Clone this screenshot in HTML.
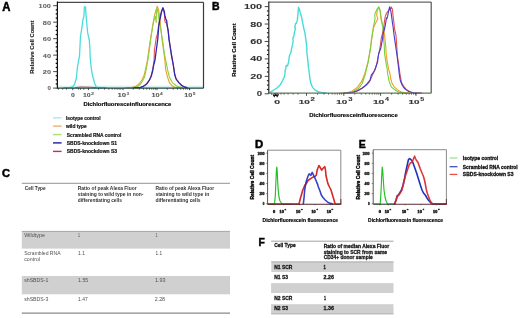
<!DOCTYPE html>
<html><head><meta charset="utf-8"><style>
html,body{margin:0;padding:0;background:#fff;}
svg{display:block;filter:blur(0.3px);}
text{font-family:"Liberation Sans", sans-serif;}
</style></head><body>
<svg width="520" height="318" viewBox="0 0 520 318">
<rect width="520" height="318" fill="#fff"/>
<rect x="58.00" y="85.30" width="145.00" height="2.00" fill="#eaf8f8"/>
<line x1="58.00" y1="86.90" x2="203.00" y2="86.90" stroke="#c8eeee" stroke-width="0.8"/>
<path d="M64.00,87.60 L70.00,87.50 L72.50,87.00 L74.50,84.50 L76.40,78.00 L77.30,68.00 L78.30,62.00 L79.50,56.00 L79.80,50.00 L80.30,40.00 L80.50,36.00 L81.20,32.00 L82.30,25.00 L82.80,20.00 L83.80,17.00 L84.20,12.00 L84.30,7.20 L85.00,6.60 L85.60,7.20 L85.80,12.00 L86.20,17.00 L86.50,20.00 L86.90,25.00 L87.60,32.00 L88.30,36.00 L89.30,40.00 L90.00,50.00 L90.10,56.00 L90.60,62.00 L91.25,68.00 L92.20,74.00 L93.20,78.00 L94.50,83.00 L96.00,86.50 L98.00,87.50 L106.00,87.60" fill="none" stroke="#4adcdc" stroke-width="1.3" stroke-linejoin="round" stroke-linecap="round" opacity="1"/>
<path d="M75.00,87.60 L78.00,87.20 L81.00,86.90 L85.00,87.00 L89.00,87.10 L93.00,87.40 L96.00,87.60" fill="none" stroke="#a04848" stroke-width="1.0" stroke-linejoin="round" stroke-linecap="round" opacity="0.75"/>
<path d="M125.00,87.70 L131.00,87.50 L135.00,86.60 L138.00,84.70 L139.60,83.10 L141.90,80.00 L144.30,74.60 L146.30,65.70 L147.50,60.00 L148.80,50.00 L150.30,40.00 L151.10,35.00 L152.10,30.00 L152.50,26.50 L153.50,20.90 L154.40,16.20 L155.80,10.50 L157.30,6.20 L158.70,10.50 L159.60,16.20 L160.60,25.60 L161.00,30.00 L162.00,39.40 L163.40,48.90 L164.20,55.00 L164.80,60.00 L165.70,69.40 L167.50,77.00 L169.40,82.60 L172.30,86.00 L175.00,87.20 L180.00,87.70" fill="none" stroke="#eca028" stroke-width="1.1" stroke-linejoin="round" stroke-linecap="round" opacity="1"/>
<path d="M128.00,87.70 L134.00,87.60 L137.50,86.50 L140.50,84.00 L142.50,81.00 L144.30,77.60 L145.50,73.00 L147.00,65.00 L148.20,58.00 L149.30,50.00 L150.70,40.00 L151.60,33.00 L152.60,27.00 L153.60,22.00 L154.90,16.20 L155.60,18.00 L156.20,22.50 L156.30,16.00 L156.80,8.60 L157.50,9.50 L158.20,13.30 L159.20,20.90 L160.50,28.00 L161.30,33.00 L162.50,39.40 L163.60,48.00 L164.30,53.60 L165.70,60.00 L167.50,69.40 L169.40,77.00 L172.30,82.60 L176.00,85.50 L178.90,86.90 L183.00,87.70" fill="none" stroke="#88d040" stroke-width="1.1" stroke-linejoin="round" stroke-linecap="round" opacity="1"/>
<path d="M136.00,87.70 L141.00,87.20 L144.50,85.60 L147.50,83.00 L149.80,79.50 L151.50,75.00 L152.90,68.00 L154.10,60.00 L154.40,50.00 L155.20,45.00 L156.20,38.00 L157.30,34.70 L158.20,28.00 L159.20,22.00 L160.30,16.50 L161.50,12.00 L162.60,9.00 L163.50,10.00 L164.50,15.00 L164.80,20.90 L165.30,22.30 L166.50,23.00 L167.40,27.00 L168.30,32.00 L169.20,40.00 L170.60,49.00 L172.40,60.00 L173.70,67.50 L174.70,74.00 L176.20,79.00 L179.00,82.80 L182.00,85.60 L185.00,87.20 L187.00,87.60" fill="none" stroke="#e05060" stroke-width="1.1" stroke-linejoin="round" stroke-linecap="round" opacity="1"/>
<path d="M134.00,87.70 L140.40,87.40 L143.50,86.30 L146.70,83.90 L149.00,80.70 L151.00,76.80 L152.60,71.30 L153.70,65.00 L155.00,60.00 L156.30,50.00 L157.00,45.00 L157.70,39.40 L158.50,30.00 L158.70,26.50 L159.60,20.90 L160.60,16.20 L161.50,11.40 L162.90,7.70 L164.30,11.40 L164.80,15.20 L165.80,19.00 L166.70,20.90 L167.20,25.60 L168.10,30.00 L169.00,39.40 L170.50,48.90 L171.40,55.00 L172.40,60.00 L173.70,67.50 L174.60,74.20 L176.00,78.90 L178.90,82.60 L181.70,85.50 L184.50,87.00 L187.00,87.60" fill="none" stroke="#3028a8" stroke-width="1.3" stroke-linejoin="round" stroke-linecap="round" opacity="1"/>
<text x="2.20" y="10.72" font-size="12" font-weight="bold" fill="#000" text-anchor="start" textLength="8.20" lengthAdjust="spacingAndGlyphs" stroke="#000" stroke-width="0.5">A</text>
<line x1="57.40" y1="2.30" x2="203.50" y2="2.30" stroke="#4a4a4a" stroke-width="1.2"/>
<line x1="203.50" y1="2.30" x2="203.50" y2="88.20" stroke="#3a3a3a" stroke-width="1.2"/>
<line x1="53.20" y1="88.10" x2="57.40" y2="88.10" stroke="#333" stroke-width="0.9"/>
<text x="51.00" y="90.46" font-size="4.9" font-weight="bold" fill="#606060" text-anchor="end" textLength="3.40" lengthAdjust="spacingAndGlyphs" stroke="#606060" stroke-width="0.05">0</text>
<line x1="55.70" y1="83.98" x2="57.40" y2="83.98" stroke="#000" stroke-width="1.2"/>
<line x1="55.70" y1="79.86" x2="57.40" y2="79.86" stroke="#000" stroke-width="1.2"/>
<line x1="55.70" y1="75.74" x2="57.40" y2="75.74" stroke="#000" stroke-width="1.2"/>
<line x1="53.20" y1="71.62" x2="57.40" y2="71.62" stroke="#333" stroke-width="0.9"/>
<text x="51.00" y="73.98" font-size="4.9" font-weight="bold" fill="#606060" text-anchor="end" textLength="8.20" lengthAdjust="spacingAndGlyphs" stroke="#606060" stroke-width="0.05">20</text>
<line x1="55.70" y1="67.50" x2="57.40" y2="67.50" stroke="#000" stroke-width="1.2"/>
<line x1="55.70" y1="63.38" x2="57.40" y2="63.38" stroke="#000" stroke-width="1.2"/>
<line x1="55.70" y1="59.26" x2="57.40" y2="59.26" stroke="#000" stroke-width="1.2"/>
<line x1="53.20" y1="55.14" x2="57.40" y2="55.14" stroke="#333" stroke-width="0.9"/>
<text x="51.00" y="57.50" font-size="4.9" font-weight="bold" fill="#606060" text-anchor="end" textLength="8.20" lengthAdjust="spacingAndGlyphs" stroke="#606060" stroke-width="0.05">40</text>
<line x1="55.70" y1="51.02" x2="57.40" y2="51.02" stroke="#000" stroke-width="1.2"/>
<line x1="55.70" y1="46.90" x2="57.40" y2="46.90" stroke="#000" stroke-width="1.2"/>
<line x1="55.70" y1="42.78" x2="57.40" y2="42.78" stroke="#000" stroke-width="1.2"/>
<line x1="53.20" y1="38.66" x2="57.40" y2="38.66" stroke="#333" stroke-width="0.9"/>
<text x="51.00" y="41.02" font-size="4.9" font-weight="bold" fill="#606060" text-anchor="end" textLength="8.20" lengthAdjust="spacingAndGlyphs" stroke="#606060" stroke-width="0.05">60</text>
<line x1="55.70" y1="34.54" x2="57.40" y2="34.54" stroke="#000" stroke-width="1.2"/>
<line x1="55.70" y1="30.42" x2="57.40" y2="30.42" stroke="#000" stroke-width="1.2"/>
<line x1="55.70" y1="26.30" x2="57.40" y2="26.30" stroke="#000" stroke-width="1.2"/>
<line x1="53.20" y1="22.18" x2="57.40" y2="22.18" stroke="#333" stroke-width="0.9"/>
<text x="51.00" y="24.54" font-size="4.9" font-weight="bold" fill="#606060" text-anchor="end" textLength="8.20" lengthAdjust="spacingAndGlyphs" stroke="#606060" stroke-width="0.05">80</text>
<line x1="55.70" y1="18.06" x2="57.40" y2="18.06" stroke="#000" stroke-width="1.2"/>
<line x1="55.70" y1="13.94" x2="57.40" y2="13.94" stroke="#000" stroke-width="1.2"/>
<line x1="55.70" y1="9.82" x2="57.40" y2="9.82" stroke="#000" stroke-width="1.2"/>
<line x1="53.20" y1="5.70" x2="57.40" y2="5.70" stroke="#333" stroke-width="0.9"/>
<text x="51.00" y="8.06" font-size="4.9" font-weight="bold" fill="#606060" text-anchor="end" textLength="12.40" lengthAdjust="spacingAndGlyphs" stroke="#606060" stroke-width="0.05">100</text>
<line x1="57.40" y1="1.50" x2="57.40" y2="88.70" stroke="#111" stroke-width="1.2"/>
<line x1="57.40" y1="88.20" x2="203.50" y2="88.20" stroke="#1f4640" stroke-width="1.3"/>
<line x1="72.80" y1="88.20" x2="72.80" y2="90.20" stroke="#222" stroke-width="0.8"/>
<line x1="88.40" y1="88.20" x2="88.40" y2="90.20" stroke="#222" stroke-width="0.8"/>
<line x1="123.00" y1="88.20" x2="123.00" y2="90.20" stroke="#222" stroke-width="0.8"/>
<line x1="157.00" y1="88.20" x2="157.00" y2="90.20" stroke="#222" stroke-width="0.8"/>
<line x1="189.70" y1="88.20" x2="189.70" y2="90.20" stroke="#222" stroke-width="0.8"/>
<line x1="98.64" y1="88.20" x2="98.64" y2="89.70" stroke="#222" stroke-width="0.7"/>
<line x1="104.62" y1="88.20" x2="104.62" y2="89.70" stroke="#222" stroke-width="0.7"/>
<line x1="108.87" y1="88.20" x2="108.87" y2="89.70" stroke="#222" stroke-width="0.7"/>
<line x1="112.16" y1="88.20" x2="112.16" y2="89.70" stroke="#222" stroke-width="0.7"/>
<line x1="114.86" y1="88.20" x2="114.86" y2="89.70" stroke="#222" stroke-width="0.7"/>
<line x1="117.13" y1="88.20" x2="117.13" y2="89.70" stroke="#222" stroke-width="0.7"/>
<line x1="119.11" y1="88.20" x2="119.11" y2="89.70" stroke="#222" stroke-width="0.7"/>
<line x1="120.84" y1="88.20" x2="120.84" y2="89.70" stroke="#222" stroke-width="0.7"/>
<line x1="133.24" y1="88.20" x2="133.24" y2="89.70" stroke="#222" stroke-width="0.7"/>
<line x1="139.22" y1="88.20" x2="139.22" y2="89.70" stroke="#222" stroke-width="0.7"/>
<line x1="143.47" y1="88.20" x2="143.47" y2="89.70" stroke="#222" stroke-width="0.7"/>
<line x1="146.76" y1="88.20" x2="146.76" y2="89.70" stroke="#222" stroke-width="0.7"/>
<line x1="149.46" y1="88.20" x2="149.46" y2="89.70" stroke="#222" stroke-width="0.7"/>
<line x1="151.73" y1="88.20" x2="151.73" y2="89.70" stroke="#222" stroke-width="0.7"/>
<line x1="153.71" y1="88.20" x2="153.71" y2="89.70" stroke="#222" stroke-width="0.7"/>
<line x1="155.44" y1="88.20" x2="155.44" y2="89.70" stroke="#222" stroke-width="0.7"/>
<line x1="167.24" y1="88.20" x2="167.24" y2="89.70" stroke="#222" stroke-width="0.7"/>
<line x1="173.22" y1="88.20" x2="173.22" y2="89.70" stroke="#222" stroke-width="0.7"/>
<line x1="177.47" y1="88.20" x2="177.47" y2="89.70" stroke="#222" stroke-width="0.7"/>
<line x1="180.76" y1="88.20" x2="180.76" y2="89.70" stroke="#222" stroke-width="0.7"/>
<line x1="183.46" y1="88.20" x2="183.46" y2="89.70" stroke="#222" stroke-width="0.7"/>
<line x1="185.73" y1="88.20" x2="185.73" y2="89.70" stroke="#222" stroke-width="0.7"/>
<line x1="187.71" y1="88.20" x2="187.71" y2="89.70" stroke="#222" stroke-width="0.7"/>
<line x1="189.44" y1="88.20" x2="189.44" y2="89.70" stroke="#222" stroke-width="0.7"/>
<line x1="58.40" y1="88.20" x2="58.40" y2="89.70" stroke="#222" stroke-width="0.7"/>
<line x1="62.70" y1="88.20" x2="62.70" y2="89.70" stroke="#222" stroke-width="0.7"/>
<line x1="66.50" y1="88.20" x2="66.50" y2="89.70" stroke="#222" stroke-width="0.7"/>
<line x1="78.60" y1="88.20" x2="78.60" y2="89.70" stroke="#222" stroke-width="0.7"/>
<line x1="80.50" y1="88.20" x2="80.50" y2="89.70" stroke="#222" stroke-width="0.7"/>
<line x1="83.80" y1="88.20" x2="83.80" y2="89.70" stroke="#222" stroke-width="0.7"/>
<text x="70.90" y="97.43" font-size="4.8" font-weight="bold" fill="#5a5a5a" text-anchor="start" textLength="3.80" lengthAdjust="spacingAndGlyphs" stroke="#5a5a5a" stroke-width="0.1">0</text>
<text x="82.90" y="97.03" font-size="4.8" font-weight="bold" fill="#5a5a5a" text-anchor="start" textLength="7.70" lengthAdjust="spacingAndGlyphs" stroke="#5a5a5a" stroke-width="0.1">10</text>
<text x="90.90" y="94.62" font-size="3.4" font-weight="bold" fill="#5a5a5a" text-anchor="start" textLength="3.00" lengthAdjust="spacingAndGlyphs" stroke="#5a5a5a" stroke-width="0.05">2</text>
<text x="117.50" y="97.03" font-size="4.8" font-weight="bold" fill="#5a5a5a" text-anchor="start" textLength="8.60" lengthAdjust="spacingAndGlyphs" stroke="#5a5a5a" stroke-width="0.1">10</text>
<text x="126.60" y="94.62" font-size="3.4" font-weight="bold" fill="#5a5a5a" text-anchor="start" textLength="2.60" lengthAdjust="spacingAndGlyphs" stroke="#5a5a5a" stroke-width="0.05">3</text>
<text x="151.50" y="97.03" font-size="4.8" font-weight="bold" fill="#5a5a5a" text-anchor="start" textLength="8.10" lengthAdjust="spacingAndGlyphs" stroke="#5a5a5a" stroke-width="0.1">10</text>
<text x="160.10" y="94.62" font-size="3.4" font-weight="bold" fill="#5a5a5a" text-anchor="start" textLength="2.70" lengthAdjust="spacingAndGlyphs" stroke="#5a5a5a" stroke-width="0.05">4</text>
<text x="184.20" y="97.03" font-size="4.8" font-weight="bold" fill="#5a5a5a" text-anchor="start" textLength="8.10" lengthAdjust="spacingAndGlyphs" stroke="#5a5a5a" stroke-width="0.1">10</text>
<text x="192.70" y="94.62" font-size="3.4" font-weight="bold" fill="#5a5a5a" text-anchor="start" textLength="2.70" lengthAdjust="spacingAndGlyphs" stroke="#5a5a5a" stroke-width="0.05">5</text>
<text x="83.40" y="106.15" font-size="5.7" font-weight="bold" fill="#000" text-anchor="start" textLength="88.00" lengthAdjust="spacingAndGlyphs" stroke="#000" stroke-width="0.15">Dichlorfluoresceinfluorescence</text>
<text transform="translate(34.16,47.15) rotate(-90)" x="0" y="0" font-size="6.0" font-weight="bold" fill="#1a1a1a" text-anchor="middle" textLength="53.10" lengthAdjust="spacingAndGlyphs" stroke="#1a1a1a" stroke-width="0.1">Relative Cell Count</text>
<line x1="53.00" y1="117.80" x2="61.60" y2="117.80" stroke="#a4eaf0" stroke-width="1.4"/>
<text x="66.00" y="119.71" font-size="5.3" font-weight="bold" fill="#181818" text-anchor="start" textLength="34.60" lengthAdjust="spacingAndGlyphs" stroke="#181818" stroke-width="0.22">Isotype control</text>
<line x1="53.00" y1="126.10" x2="61.60" y2="126.10" stroke="#f0b070" stroke-width="1.4"/>
<text x="66.00" y="128.01" font-size="5.3" font-weight="bold" fill="#181818" text-anchor="start" textLength="20.70" lengthAdjust="spacingAndGlyphs" stroke="#181818" stroke-width="0.22">wild type</text>
<line x1="53.00" y1="134.60" x2="61.60" y2="134.60" stroke="#a8e070" stroke-width="1.4"/>
<text x="66.80" y="136.51" font-size="5.3" font-weight="bold" fill="#181818" text-anchor="start" textLength="54.50" lengthAdjust="spacingAndGlyphs" stroke="#181818" stroke-width="0.22">Scrambled RNA control</text>
<line x1="53.00" y1="142.90" x2="61.60" y2="142.90" stroke="#1c1ca0" stroke-width="1.4"/>
<text x="66.80" y="144.81" font-size="5.3" font-weight="bold" fill="#181818" text-anchor="start" textLength="50.20" lengthAdjust="spacingAndGlyphs" stroke="#181818" stroke-width="0.22">SBDS-knockdown S1</text>
<line x1="53.00" y1="151.40" x2="61.60" y2="151.40" stroke="#d82848" stroke-width="1.4"/>
<text x="66.80" y="153.31" font-size="5.3" font-weight="bold" fill="#181818" text-anchor="start" textLength="50.20" lengthAdjust="spacingAndGlyphs" stroke="#181818" stroke-width="0.22">SBDS-knockdown S3</text>
<path d="M269.60,92.80 L271.30,91.60 L273.70,90.00 L277.00,88.00 L280.30,84.70 L282.70,80.60 L284.40,76.50 L285.00,73.30 L285.20,70.00 L285.80,68.40 L286.20,65.50 L287.60,65.80 L288.60,61.80 L289.40,56.10 L290.20,54.00 L291.10,52.00 L291.40,49.30 L292.60,44.40 L293.20,40.50 L292.80,38.00 L293.80,36.50 L294.30,32.90 L295.50,28.00 L294.80,27.20 L295.20,25.30 L295.60,23.40 L296.40,23.20 L297.30,20.40 L298.10,12.20 L298.50,7.30 L299.30,9.00 L300.10,12.20 L301.40,16.30 L302.20,20.40 L303.00,24.40 L303.70,28.00 L304.90,32.90 L305.70,38.60 L306.50,44.40 L306.90,49.30 L306.80,52.00 L307.30,56.00 L307.80,60.20 L308.60,68.40 L309.40,74.00 L309.80,78.00 L310.90,83.30 L312.40,87.10 L315.10,90.10 L318.10,91.70 L321.10,92.40 L326.00,92.90" fill="none" stroke="#46dcd8" stroke-width="1.4" stroke-linejoin="round" stroke-linecap="round" opacity="1"/>
<path d="M340.00,93.10 L345.00,93.00 L347.70,92.50 L352.30,90.90 L356.90,87.80 L361.50,81.70 L364.60,74.20 L366.50,67.50 L368.00,61.70 L369.40,54.00 L370.50,47.70 L371.40,40.20 L372.40,33.50 L373.80,27.00 L375.90,22.60 L377.80,18.70 L376.60,14.80 L377.40,10.00 L379.00,7.30 L380.20,10.90 L380.60,16.40 L381.70,22.60 L383.30,27.00 L384.60,35.40 L385.60,44.90 L386.30,55.00 L387.20,61.70 L388.70,69.40 L390.00,74.00 L390.80,79.00 L392.00,83.00 L393.80,86.30 L396.90,89.40 L400.80,91.70 L405.00,92.90 L410.00,93.10" fill="none" stroke="#f0a020" stroke-width="1.1" stroke-linejoin="round" stroke-linecap="round" opacity="1"/>
<path d="M343.00,93.10 L348.00,93.00 L353.80,91.20 L358.50,88.60 L362.30,83.20 L365.40,74.00 L366.80,67.50 L368.30,61.70 L369.60,54.00 L370.60,47.70 L371.50,40.20 L372.50,33.50 L373.30,27.00 L374.30,22.60 L375.10,18.70 L374.70,14.80 L375.50,12.40 L377.00,9.30 L378.60,6.90 L379.80,9.30 L381.00,16.40 L382.10,22.60 L382.80,27.00 L383.20,35.40 L384.20,44.90 L384.60,54.00 L385.80,61.70 L387.20,69.40 L387.70,74.00 L389.20,81.70 L391.50,87.10 L395.40,90.20 L399.20,92.20 L403.00,92.90 L408.00,93.10" fill="none" stroke="#78d040" stroke-width="1.1" stroke-linejoin="round" stroke-linecap="round" opacity="1"/>
<path d="M346.00,93.10 L350.00,93.00 L353.80,92.20 L358.50,90.20 L363.00,87.80 L368.50,83.20 L370.40,80.00 L372.00,76.00 L374.00,72.00 L375.50,68.00 L376.80,64.00 L377.80,58.00 L379.20,52.00 L380.40,45.00 L381.30,38.00 L382.30,34.50 L383.70,28.00 L384.50,21.00 L385.30,16.40 L386.50,13.20 L387.60,11.60 L390.00,9.30 L391.20,6.90 L392.40,9.30 L393.10,16.40 L393.90,22.60 L394.50,28.80 L396.00,35.40 L396.70,45.00 L397.40,56.00 L398.30,62.00 L399.30,69.40 L400.00,74.00 L401.50,82.50 L403.80,86.30 L406.20,89.40 L410.00,91.70 L413.80,92.80 L418.00,93.00 L422.00,93.10" fill="none" stroke="#e05050" stroke-width="1.1" stroke-linejoin="round" stroke-linecap="round" opacity="1"/>
<path d="M344.00,93.10 L348.00,93.00 L352.30,92.50 L356.90,90.90 L361.50,88.60 L366.20,84.80 L370.00,80.20 L371.30,75.20 L372.80,73.20 L374.70,70.30 L375.70,67.50 L376.60,64.60 L377.60,61.70 L378.60,54.00 L380.90,47.70 L382.30,40.20 L383.20,33.50 L385.00,27.00 L385.70,22.60 L386.50,17.90 L386.90,18.70 L387.60,16.40 L388.60,10.90 L389.60,6.90 L390.80,10.90 L391.60,16.40 L392.40,22.60 L393.10,27.00 L394.10,35.40 L395.50,44.90 L396.80,54.00 L397.80,61.70 L398.80,69.40 L399.20,74.00 L400.20,80.00 L400.80,81.70 L402.30,85.50 L404.60,88.60 L407.70,90.90 L411.50,92.50 L416.00,93.00 L420.00,93.10" fill="none" stroke="#4a38c8" stroke-width="1.1" stroke-linejoin="round" stroke-linecap="round" opacity="1"/>
<text x="212.00" y="10.34" font-size="11.5" font-weight="bold" fill="#000" text-anchor="start" textLength="7.60" lengthAdjust="spacingAndGlyphs" stroke="#000" stroke-width="0.5">B</text>
<line x1="268.80" y1="2.10" x2="431.20" y2="2.10" stroke="#666" stroke-width="1.2"/>
<line x1="431.20" y1="2.10" x2="431.20" y2="93.20" stroke="#555" stroke-width="1.2"/>
<line x1="264.70" y1="93.80" x2="268.80" y2="93.80" stroke="#333" stroke-width="0.9"/>
<text x="262.20" y="96.27" font-size="6.3" font-weight="bold" fill="#333" text-anchor="end" textLength="5.40" lengthAdjust="spacingAndGlyphs" stroke="#333" stroke-width="0.05">0</text>
<line x1="266.90" y1="89.44" x2="268.80" y2="89.44" stroke="#111" stroke-width="1.1"/>
<line x1="266.90" y1="85.08" x2="268.80" y2="85.08" stroke="#111" stroke-width="1.1"/>
<line x1="266.90" y1="80.72" x2="268.80" y2="80.72" stroke="#111" stroke-width="1.1"/>
<line x1="264.70" y1="76.36" x2="268.80" y2="76.36" stroke="#333" stroke-width="0.9"/>
<text x="262.20" y="78.83" font-size="6.3" font-weight="bold" fill="#333" text-anchor="end" textLength="12.00" lengthAdjust="spacingAndGlyphs" stroke="#333" stroke-width="0.05">20</text>
<line x1="266.90" y1="72.00" x2="268.80" y2="72.00" stroke="#111" stroke-width="1.1"/>
<line x1="266.90" y1="67.64" x2="268.80" y2="67.64" stroke="#111" stroke-width="1.1"/>
<line x1="266.90" y1="63.28" x2="268.80" y2="63.28" stroke="#111" stroke-width="1.1"/>
<line x1="264.70" y1="58.92" x2="268.80" y2="58.92" stroke="#333" stroke-width="0.9"/>
<text x="262.20" y="61.39" font-size="6.3" font-weight="bold" fill="#333" text-anchor="end" textLength="12.00" lengthAdjust="spacingAndGlyphs" stroke="#333" stroke-width="0.05">40</text>
<line x1="266.90" y1="54.56" x2="268.80" y2="54.56" stroke="#111" stroke-width="1.1"/>
<line x1="266.90" y1="50.20" x2="268.80" y2="50.20" stroke="#111" stroke-width="1.1"/>
<line x1="266.90" y1="45.84" x2="268.80" y2="45.84" stroke="#111" stroke-width="1.1"/>
<line x1="264.70" y1="41.48" x2="268.80" y2="41.48" stroke="#333" stroke-width="0.9"/>
<text x="262.20" y="43.95" font-size="6.3" font-weight="bold" fill="#333" text-anchor="end" textLength="12.00" lengthAdjust="spacingAndGlyphs" stroke="#333" stroke-width="0.05">60</text>
<line x1="266.90" y1="37.12" x2="268.80" y2="37.12" stroke="#111" stroke-width="1.1"/>
<line x1="266.90" y1="32.76" x2="268.80" y2="32.76" stroke="#111" stroke-width="1.1"/>
<line x1="266.90" y1="28.40" x2="268.80" y2="28.40" stroke="#111" stroke-width="1.1"/>
<line x1="264.70" y1="24.04" x2="268.80" y2="24.04" stroke="#333" stroke-width="0.9"/>
<text x="262.20" y="26.51" font-size="6.3" font-weight="bold" fill="#333" text-anchor="end" textLength="12.00" lengthAdjust="spacingAndGlyphs" stroke="#333" stroke-width="0.05">80</text>
<line x1="266.90" y1="19.68" x2="268.80" y2="19.68" stroke="#111" stroke-width="1.1"/>
<line x1="266.90" y1="15.32" x2="268.80" y2="15.32" stroke="#111" stroke-width="1.1"/>
<line x1="266.90" y1="10.96" x2="268.80" y2="10.96" stroke="#111" stroke-width="1.1"/>
<line x1="264.70" y1="6.60" x2="268.80" y2="6.60" stroke="#333" stroke-width="0.9"/>
<text x="262.20" y="9.07" font-size="6.3" font-weight="bold" fill="#333" text-anchor="end" textLength="18.20" lengthAdjust="spacingAndGlyphs" stroke="#333" stroke-width="0.05">100</text>
<line x1="268.80" y1="1.50" x2="268.80" y2="93.70" stroke="#2a2a2a" stroke-width="1.2"/>
<line x1="268.80" y1="93.20" x2="431.20" y2="93.20" stroke="#5e7a58" stroke-width="1.3"/>
<line x1="277.20" y1="93.20" x2="277.20" y2="95.80" stroke="#222" stroke-width="0.8"/>
<line x1="306.50" y1="93.20" x2="306.50" y2="95.80" stroke="#222" stroke-width="0.8"/>
<line x1="343.80" y1="93.20" x2="343.80" y2="95.80" stroke="#222" stroke-width="0.8"/>
<line x1="380.60" y1="93.20" x2="380.60" y2="95.80" stroke="#222" stroke-width="0.8"/>
<line x1="416.00" y1="93.20" x2="416.00" y2="95.80" stroke="#222" stroke-width="0.8"/>
<line x1="317.52" y1="93.20" x2="317.52" y2="94.70" stroke="#333" stroke-width="0.7"/>
<line x1="323.96" y1="93.20" x2="323.96" y2="94.70" stroke="#333" stroke-width="0.7"/>
<line x1="328.54" y1="93.20" x2="328.54" y2="94.70" stroke="#333" stroke-width="0.7"/>
<line x1="332.08" y1="93.20" x2="332.08" y2="94.70" stroke="#333" stroke-width="0.7"/>
<line x1="334.98" y1="93.20" x2="334.98" y2="94.70" stroke="#333" stroke-width="0.7"/>
<line x1="337.43" y1="93.20" x2="337.43" y2="94.70" stroke="#333" stroke-width="0.7"/>
<line x1="339.55" y1="93.20" x2="339.55" y2="94.70" stroke="#333" stroke-width="0.7"/>
<line x1="341.43" y1="93.20" x2="341.43" y2="94.70" stroke="#333" stroke-width="0.7"/>
<line x1="354.82" y1="93.20" x2="354.82" y2="94.70" stroke="#333" stroke-width="0.7"/>
<line x1="361.26" y1="93.20" x2="361.26" y2="94.70" stroke="#333" stroke-width="0.7"/>
<line x1="365.84" y1="93.20" x2="365.84" y2="94.70" stroke="#333" stroke-width="0.7"/>
<line x1="369.38" y1="93.20" x2="369.38" y2="94.70" stroke="#333" stroke-width="0.7"/>
<line x1="372.28" y1="93.20" x2="372.28" y2="94.70" stroke="#333" stroke-width="0.7"/>
<line x1="374.73" y1="93.20" x2="374.73" y2="94.70" stroke="#333" stroke-width="0.7"/>
<line x1="376.85" y1="93.20" x2="376.85" y2="94.70" stroke="#333" stroke-width="0.7"/>
<line x1="378.73" y1="93.20" x2="378.73" y2="94.70" stroke="#333" stroke-width="0.7"/>
<line x1="391.62" y1="93.20" x2="391.62" y2="94.70" stroke="#333" stroke-width="0.7"/>
<line x1="398.06" y1="93.20" x2="398.06" y2="94.70" stroke="#333" stroke-width="0.7"/>
<line x1="402.64" y1="93.20" x2="402.64" y2="94.70" stroke="#333" stroke-width="0.7"/>
<line x1="406.18" y1="93.20" x2="406.18" y2="94.70" stroke="#333" stroke-width="0.7"/>
<line x1="409.08" y1="93.20" x2="409.08" y2="94.70" stroke="#333" stroke-width="0.7"/>
<line x1="411.53" y1="93.20" x2="411.53" y2="94.70" stroke="#333" stroke-width="0.7"/>
<line x1="413.65" y1="93.20" x2="413.65" y2="94.70" stroke="#333" stroke-width="0.7"/>
<line x1="415.53" y1="93.20" x2="415.53" y2="94.70" stroke="#333" stroke-width="0.7"/>
<line x1="271.50" y1="93.20" x2="271.50" y2="94.70" stroke="#333" stroke-width="0.7"/>
<line x1="274.50" y1="93.20" x2="274.50" y2="94.70" stroke="#333" stroke-width="0.7"/>
<line x1="281.00" y1="93.20" x2="281.00" y2="94.70" stroke="#333" stroke-width="0.7"/>
<line x1="284.00" y1="93.20" x2="284.00" y2="94.70" stroke="#333" stroke-width="0.7"/>
<line x1="288.00" y1="93.20" x2="288.00" y2="94.70" stroke="#333" stroke-width="0.7"/>
<line x1="293.00" y1="93.20" x2="293.00" y2="94.70" stroke="#333" stroke-width="0.7"/>
<line x1="298.00" y1="93.20" x2="298.00" y2="94.70" stroke="#333" stroke-width="0.7"/>
<path d="M272.9,94.2 L274.3,96.4 L275.7,94.2 L277.2,96.4 L278.6,94.2" fill="none" stroke="#151515" stroke-width="1.1"/>
<text x="274.30" y="103.86" font-size="6.0" font-weight="bold" fill="#3a3a3a" text-anchor="start" textLength="5.80" lengthAdjust="spacingAndGlyphs" stroke="#3a3a3a" stroke-width="0.15">0</text>
<text x="298.80" y="104.46" font-size="6.0" font-weight="bold" fill="#3a3a3a" text-anchor="start" textLength="11.10" lengthAdjust="spacingAndGlyphs" stroke="#3a3a3a" stroke-width="0.15">10</text>
<text x="310.40" y="101.46" font-size="4.9" font-weight="bold" fill="#3a3a3a" text-anchor="start" textLength="4.30" lengthAdjust="spacingAndGlyphs" stroke="#3a3a3a" stroke-width="0.1">2</text>
<text x="336.30" y="104.46" font-size="6.0" font-weight="bold" fill="#3a3a3a" text-anchor="start" textLength="11.00" lengthAdjust="spacingAndGlyphs" stroke="#3a3a3a" stroke-width="0.15">10</text>
<text x="348.30" y="101.46" font-size="4.9" font-weight="bold" fill="#3a3a3a" text-anchor="start" textLength="4.30" lengthAdjust="spacingAndGlyphs" stroke="#3a3a3a" stroke-width="0.1">3</text>
<text x="372.90" y="104.46" font-size="6.0" font-weight="bold" fill="#3a3a3a" text-anchor="start" textLength="11.50" lengthAdjust="spacingAndGlyphs" stroke="#3a3a3a" stroke-width="0.15">10</text>
<text x="385.00" y="101.46" font-size="4.9" font-weight="bold" fill="#3a3a3a" text-anchor="start" textLength="4.00" lengthAdjust="spacingAndGlyphs" stroke="#3a3a3a" stroke-width="0.1">4</text>
<text x="408.60" y="104.46" font-size="6.0" font-weight="bold" fill="#3a3a3a" text-anchor="start" textLength="11.00" lengthAdjust="spacingAndGlyphs" stroke="#3a3a3a" stroke-width="0.15">10</text>
<text x="420.20" y="101.46" font-size="4.9" font-weight="bold" fill="#3a3a3a" text-anchor="start" textLength="4.00" lengthAdjust="spacingAndGlyphs" stroke="#3a3a3a" stroke-width="0.1">5</text>
<text x="309.30" y="116.85" font-size="5.7" font-weight="bold" fill="#000" text-anchor="start" textLength="88.40" lengthAdjust="spacingAndGlyphs" stroke="#000" stroke-width="0.15">Dichlorfluoresceinfluorescence</text>
<text transform="translate(236.16,50.10) rotate(-90)" x="0" y="0" font-size="4.9" font-weight="bold" fill="#000" text-anchor="middle" textLength="53.40" lengthAdjust="spacingAndGlyphs" stroke="#000" stroke-width="0.12">Relative Cell Count</text>
<text x="2.00" y="177.43" font-size="11.2" font-weight="bold" fill="#000" text-anchor="start" textLength="8.00" lengthAdjust="spacingAndGlyphs" stroke="#000" stroke-width="0.5">C</text>
<line x1="21.80" y1="183.30" x2="230.00" y2="183.30" stroke="#888" stroke-width="0.9"/>
<text x="24.70" y="190.07" font-size="5.2" font-weight="bold" fill="#333" text-anchor="start" textLength="21.00" lengthAdjust="spacingAndGlyphs">Cell Type</text>
<text x="77.80" y="189.87" font-size="5.2" font-weight="bold" fill="#333" text-anchor="start" textLength="58.80" lengthAdjust="spacingAndGlyphs">Ratio of peak Alexa Fluor</text>
<text x="77.80" y="196.27" font-size="5.2" font-weight="bold" fill="#333" text-anchor="start" textLength="65.70" lengthAdjust="spacingAndGlyphs">staining to wild type in non-</text>
<text x="77.80" y="201.97" font-size="5.2" font-weight="bold" fill="#333" text-anchor="start" textLength="44.10" lengthAdjust="spacingAndGlyphs">differentiating cells</text>
<text x="155.40" y="189.87" font-size="5.2" font-weight="bold" fill="#333" text-anchor="start" textLength="58.80" lengthAdjust="spacingAndGlyphs">Ratio of peak Alexa Fluor</text>
<text x="155.40" y="196.27" font-size="5.2" font-weight="bold" fill="#333" text-anchor="start" textLength="53.80" lengthAdjust="spacingAndGlyphs">staining to wild type in</text>
<text x="155.40" y="201.97" font-size="5.2" font-weight="bold" fill="#333" text-anchor="start" textLength="45.20" lengthAdjust="spacingAndGlyphs">differentiating cells</text>
<rect x="21.80" y="231.10" width="208.20" height="17.50" fill="#d0d0d0"/>
<line x1="21.80" y1="231.40" x2="230.00" y2="231.40" stroke="#999" stroke-width="0.8"/>
<rect x="21.80" y="276.00" width="208.20" height="18.30" fill="#d0d0d0"/>
<line x1="21.80" y1="313.10" x2="230.00" y2="313.10" stroke="#8a8a8a" stroke-width="1.3"/>
<text x="24.20" y="237.02" font-size="5.6" font-weight="normal" fill="#505050" text-anchor="start" textLength="20.80" lengthAdjust="spacingAndGlyphs">Wildtype</text>
<text x="78.10" y="236.72" font-size="5.6" font-weight="normal" fill="#505050" text-anchor="start" textLength="2.00" lengthAdjust="spacingAndGlyphs">1</text>
<text x="155.50" y="236.72" font-size="5.6" font-weight="normal" fill="#505050" text-anchor="start" textLength="2.00" lengthAdjust="spacingAndGlyphs">1</text>
<text x="24.20" y="255.22" font-size="5.6" font-weight="normal" fill="#505050" text-anchor="start" textLength="36.40" lengthAdjust="spacingAndGlyphs">Scrambled RNA</text>
<text x="24.20" y="261.42" font-size="5.6" font-weight="normal" fill="#505050" text-anchor="start" textLength="15.90" lengthAdjust="spacingAndGlyphs">control</text>
<text x="78.10" y="255.02" font-size="5.6" font-weight="normal" fill="#505050" text-anchor="start" textLength="6.90" lengthAdjust="spacingAndGlyphs">1.1</text>
<text x="155.50" y="255.02" font-size="5.6" font-weight="normal" fill="#505050" text-anchor="start" textLength="6.60" lengthAdjust="spacingAndGlyphs">1.1</text>
<text x="24.20" y="282.22" font-size="5.6" font-weight="normal" fill="#505050" text-anchor="start" textLength="24.20" lengthAdjust="spacingAndGlyphs">shSBDS-1</text>
<text x="78.10" y="281.92" font-size="5.6" font-weight="normal" fill="#505050" text-anchor="start" textLength="10.00" lengthAdjust="spacingAndGlyphs">1.55</text>
<text x="155.00" y="281.92" font-size="5.6" font-weight="normal" fill="#505050" text-anchor="start" textLength="10.60" lengthAdjust="spacingAndGlyphs">1.93</text>
<text x="24.20" y="300.62" font-size="5.6" font-weight="normal" fill="#505050" text-anchor="start" textLength="24.20" lengthAdjust="spacingAndGlyphs">shSBDS-3</text>
<text x="78.10" y="300.52" font-size="5.6" font-weight="normal" fill="#505050" text-anchor="start" textLength="9.50" lengthAdjust="spacingAndGlyphs">1.47</text>
<text x="154.70" y="300.52" font-size="5.6" font-weight="normal" fill="#505050" text-anchor="start" textLength="10.40" lengthAdjust="spacingAndGlyphs">2.28</text>
<text x="255.00" y="147.64" font-size="11.5" font-weight="bold" fill="#000" text-anchor="start" textLength="8.20" lengthAdjust="spacingAndGlyphs" stroke="#000" stroke-width="0.5">D</text>
<line x1="267.60" y1="150.20" x2="340.80" y2="150.20" stroke="#8a8a8a" stroke-width="1.0"/>
<line x1="340.80" y1="150.20" x2="340.80" y2="204.00" stroke="#8a8a8a" stroke-width="1.0"/>
<line x1="267.60" y1="150.20" x2="267.60" y2="204.00" stroke="#555" stroke-width="1.0"/>
<line x1="266.10" y1="153.20" x2="267.60" y2="153.20" stroke="#444" stroke-width="0.6"/>
<text transform="translate(257.40,153.50) scale(0.2500)" x="0" y="4.03" font-size="11.2" font-weight="bold" fill="#222" textLength="28.00" lengthAdjust="spacingAndGlyphs" stroke="#222" stroke-width="1.2">1000</text>
<line x1="266.10" y1="163.30" x2="267.60" y2="163.30" stroke="#444" stroke-width="0.6"/>
<text transform="translate(259.40,163.60) scale(0.2500)" x="0" y="4.03" font-size="11.2" font-weight="bold" fill="#222" textLength="20.00" lengthAdjust="spacingAndGlyphs" stroke="#222" stroke-width="1.2">800</text>
<line x1="266.10" y1="173.40" x2="267.60" y2="173.40" stroke="#444" stroke-width="0.6"/>
<text transform="translate(259.40,173.70) scale(0.2500)" x="0" y="4.03" font-size="11.2" font-weight="bold" fill="#222" textLength="20.00" lengthAdjust="spacingAndGlyphs" stroke="#222" stroke-width="1.2">600</text>
<line x1="266.10" y1="183.50" x2="267.60" y2="183.50" stroke="#444" stroke-width="0.6"/>
<text transform="translate(259.40,183.80) scale(0.2500)" x="0" y="4.03" font-size="11.2" font-weight="bold" fill="#222" textLength="20.00" lengthAdjust="spacingAndGlyphs" stroke="#222" stroke-width="1.2">400</text>
<line x1="266.10" y1="193.60" x2="267.60" y2="193.60" stroke="#444" stroke-width="0.6"/>
<text transform="translate(259.40,193.90) scale(0.2500)" x="0" y="4.03" font-size="11.2" font-weight="bold" fill="#222" textLength="20.00" lengthAdjust="spacingAndGlyphs" stroke="#222" stroke-width="1.2">200</text>
<line x1="266.10" y1="203.70" x2="267.60" y2="203.70" stroke="#444" stroke-width="0.6"/>
<text transform="translate(262.80,204.00) scale(0.2500)" x="0" y="4.03" font-size="11.2" font-weight="bold" fill="#222" textLength="6.40" lengthAdjust="spacingAndGlyphs" stroke="#222" stroke-width="1.2">0</text>
<line x1="274.10" y1="204.00" x2="274.10" y2="205.30" stroke="#444" stroke-width="0.6"/>
<text transform="translate(273.10,211.70) scale(0.2500)" x="0" y="4.03" font-size="11.2" font-weight="bold" fill="#222" textLength="8.80" lengthAdjust="spacingAndGlyphs" stroke="#222" stroke-width="1.4">0</text>
<line x1="283.40" y1="204.00" x2="283.40" y2="205.30" stroke="#444" stroke-width="0.6"/>
<text transform="translate(279.60,211.70) scale(0.2500)" x="0" y="4.03" font-size="11.2" font-weight="bold" fill="#222" textLength="16.80" lengthAdjust="spacingAndGlyphs" stroke="#222" stroke-width="1.4">10</text>
<text transform="translate(284.40,209.40) scale(0.2500)" x="0" y="3.46" font-size="9.6" font-weight="bold" fill="#222" textLength="6.80" lengthAdjust="spacingAndGlyphs" stroke="#222" stroke-width="1.2">2</text>
<line x1="299.75" y1="204.00" x2="299.75" y2="205.30" stroke="#444" stroke-width="0.6"/>
<text transform="translate(296.10,211.70) scale(0.2500)" x="0" y="4.03" font-size="11.2" font-weight="bold" fill="#222" textLength="16.80" lengthAdjust="spacingAndGlyphs" stroke="#222" stroke-width="1.4">10</text>
<text transform="translate(300.90,209.40) scale(0.2500)" x="0" y="3.46" font-size="9.6" font-weight="bold" fill="#222" textLength="6.80" lengthAdjust="spacingAndGlyphs" stroke="#222" stroke-width="1.2">3</text>
<line x1="315.15" y1="204.00" x2="315.15" y2="205.30" stroke="#444" stroke-width="0.6"/>
<text transform="translate(311.50,211.70) scale(0.2500)" x="0" y="4.03" font-size="11.2" font-weight="bold" fill="#222" textLength="16.80" lengthAdjust="spacingAndGlyphs" stroke="#222" stroke-width="1.4">10</text>
<text transform="translate(316.30,209.40) scale(0.2500)" x="0" y="3.46" font-size="9.6" font-weight="bold" fill="#222" textLength="6.80" lengthAdjust="spacingAndGlyphs" stroke="#222" stroke-width="1.2">4</text>
<line x1="330.50" y1="204.00" x2="330.50" y2="205.30" stroke="#444" stroke-width="0.6"/>
<text transform="translate(326.80,211.70) scale(0.2500)" x="0" y="4.03" font-size="11.2" font-weight="bold" fill="#222" textLength="16.80" lengthAdjust="spacingAndGlyphs" stroke="#222" stroke-width="1.4">10</text>
<text transform="translate(331.60,209.40) scale(0.2500)" x="0" y="3.46" font-size="9.6" font-weight="bold" fill="#222" textLength="6.80" lengthAdjust="spacingAndGlyphs" stroke="#222" stroke-width="1.2">5</text>
<text x="262.60" y="222.19" font-size="5.8" font-weight="bold" fill="#000" text-anchor="start" textLength="75.30" lengthAdjust="spacingAndGlyphs" stroke="#000" stroke-width="0.2">Dichlorfluorescein fluorescence</text>
<text transform="translate(253.87,177.20) rotate(-90)" x="0" y="0" font-size="5.2" font-weight="bold" fill="#000" text-anchor="middle" textLength="44.60" lengthAdjust="spacingAndGlyphs" stroke="#000" stroke-width="0.35">Relative Cell Count</text>
<path d="M268.00,204.00 L274.50,204.00 L275.30,196.00 L275.90,182.00 L276.40,170.00 L276.80,167.00 L277.20,171.00 L277.60,180.00 L278.20,190.00 L279.00,197.00 L280.00,201.00 L281.50,203.30 L283.00,204.00 L292.00,204.00" fill="none" stroke="#22c022" stroke-width="1.15" stroke-linejoin="round" stroke-linecap="round" opacity="1"/>
<path d="M268.00,204.00 L299.00,204.00 L300.50,198.00 L302.80,190.00 L304.50,186.00 L305.70,184.00 L306.30,183.60 L308.00,180.50 L310.20,178.90 L313.40,176.90 L315.00,176.50 L316.30,175.20 L317.20,170.00 L318.90,165.50 L320.20,167.50 L321.60,170.20 L323.20,168.00 L324.80,166.70 L325.50,170.00 L326.00,175.70 L327.90,183.60 L329.50,187.00 L331.00,190.00 L332.50,195.00 L334.00,200.00 L335.00,203.50 L336.00,204.00 L340.80,204.00" fill="none" stroke="#d82828" stroke-width="1.6" stroke-linejoin="round" stroke-linecap="round" opacity="1"/>
<path d="M303.30,204.00 L304.00,198.00 L304.70,190.00 L305.90,182.80 L307.00,179.00 L308.30,175.50 L309.40,173.80 L311.00,175.30 L312.20,172.40 L313.50,175.00 L314.90,178.00 L316.00,180.50 L317.30,183.60 L318.40,187.00 L320.00,191.00 L321.30,195.00 L323.00,197.50 L325.20,200.00 L328.10,202.50 L330.50,203.40 L333.00,204.00" fill="none" stroke="#2030c0" stroke-width="1.6" stroke-linejoin="round" stroke-linecap="round" opacity="0.9"/>
<line x1="267.60" y1="204.20" x2="340.80" y2="204.20" stroke="#4e2424" stroke-width="1.1"/>
<line x1="340.80" y1="199.00" x2="340.80" y2="204.20" stroke="#6a3a3a" stroke-width="1.0"/>
<text x="358.80" y="147.54" font-size="11.5" font-weight="bold" fill="#000" text-anchor="start" textLength="7.00" lengthAdjust="spacingAndGlyphs" stroke="#000" stroke-width="0.5">E</text>
<line x1="373.20" y1="149.70" x2="446.40" y2="149.70" stroke="#8a8a8a" stroke-width="1.0"/>
<line x1="446.40" y1="149.70" x2="446.40" y2="204.10" stroke="#8a8a8a" stroke-width="1.0"/>
<line x1="373.20" y1="149.70" x2="373.20" y2="204.10" stroke="#555" stroke-width="1.0"/>
<line x1="371.70" y1="153.20" x2="373.20" y2="153.20" stroke="#444" stroke-width="0.6"/>
<text transform="translate(362.50,153.50) scale(0.2500)" x="0" y="4.03" font-size="11.2" font-weight="bold" fill="#222" textLength="28.00" lengthAdjust="spacingAndGlyphs" stroke="#222" stroke-width="1.2">1000</text>
<line x1="371.70" y1="163.30" x2="373.20" y2="163.30" stroke="#444" stroke-width="0.6"/>
<text transform="translate(364.50,163.60) scale(0.2500)" x="0" y="4.03" font-size="11.2" font-weight="bold" fill="#222" textLength="20.00" lengthAdjust="spacingAndGlyphs" stroke="#222" stroke-width="1.2">800</text>
<line x1="371.70" y1="173.40" x2="373.20" y2="173.40" stroke="#444" stroke-width="0.6"/>
<text transform="translate(364.50,173.70) scale(0.2500)" x="0" y="4.03" font-size="11.2" font-weight="bold" fill="#222" textLength="20.00" lengthAdjust="spacingAndGlyphs" stroke="#222" stroke-width="1.2">600</text>
<line x1="371.70" y1="183.50" x2="373.20" y2="183.50" stroke="#444" stroke-width="0.6"/>
<text transform="translate(364.50,183.80) scale(0.2500)" x="0" y="4.03" font-size="11.2" font-weight="bold" fill="#222" textLength="20.00" lengthAdjust="spacingAndGlyphs" stroke="#222" stroke-width="1.2">400</text>
<line x1="371.70" y1="193.60" x2="373.20" y2="193.60" stroke="#444" stroke-width="0.6"/>
<text transform="translate(364.50,193.90) scale(0.2500)" x="0" y="4.03" font-size="11.2" font-weight="bold" fill="#222" textLength="20.00" lengthAdjust="spacingAndGlyphs" stroke="#222" stroke-width="1.2">200</text>
<line x1="371.70" y1="203.70" x2="373.20" y2="203.70" stroke="#444" stroke-width="0.6"/>
<text transform="translate(367.90,204.00) scale(0.2500)" x="0" y="4.03" font-size="11.2" font-weight="bold" fill="#222" textLength="6.40" lengthAdjust="spacingAndGlyphs" stroke="#222" stroke-width="1.2">0</text>
<line x1="379.70" y1="204.10" x2="379.70" y2="205.40" stroke="#444" stroke-width="0.6"/>
<text transform="translate(378.80,211.70) scale(0.2500)" x="0" y="4.03" font-size="11.2" font-weight="bold" fill="#222" textLength="8.80" lengthAdjust="spacingAndGlyphs" stroke="#222" stroke-width="1.4">0</text>
<line x1="388.35" y1="204.10" x2="388.35" y2="205.40" stroke="#444" stroke-width="0.6"/>
<text transform="translate(384.70,211.70) scale(0.2500)" x="0" y="4.03" font-size="11.2" font-weight="bold" fill="#222" textLength="16.80" lengthAdjust="spacingAndGlyphs" stroke="#222" stroke-width="1.4">10</text>
<text transform="translate(389.50,209.40) scale(0.2500)" x="0" y="3.46" font-size="9.6" font-weight="bold" fill="#222" textLength="6.80" lengthAdjust="spacingAndGlyphs" stroke="#222" stroke-width="1.2">2</text>
<line x1="405.25" y1="204.10" x2="405.25" y2="205.40" stroke="#444" stroke-width="0.6"/>
<text transform="translate(402.00,211.70) scale(0.2500)" x="0" y="4.03" font-size="11.2" font-weight="bold" fill="#222" textLength="16.80" lengthAdjust="spacingAndGlyphs" stroke="#222" stroke-width="1.4">10</text>
<text transform="translate(406.80,209.40) scale(0.2500)" x="0" y="3.46" font-size="9.6" font-weight="bold" fill="#222" textLength="6.80" lengthAdjust="spacingAndGlyphs" stroke="#222" stroke-width="1.2">3</text>
<line x1="420.80" y1="204.10" x2="420.80" y2="205.40" stroke="#444" stroke-width="0.6"/>
<text transform="translate(417.60,211.70) scale(0.2500)" x="0" y="4.03" font-size="11.2" font-weight="bold" fill="#222" textLength="16.80" lengthAdjust="spacingAndGlyphs" stroke="#222" stroke-width="1.4">10</text>
<text transform="translate(422.40,209.40) scale(0.2500)" x="0" y="3.46" font-size="9.6" font-weight="bold" fill="#222" textLength="6.80" lengthAdjust="spacingAndGlyphs" stroke="#222" stroke-width="1.2">4</text>
<line x1="436.35" y1="204.10" x2="436.35" y2="205.40" stroke="#444" stroke-width="0.6"/>
<text transform="translate(433.10,211.70) scale(0.2500)" x="0" y="4.03" font-size="11.2" font-weight="bold" fill="#222" textLength="16.80" lengthAdjust="spacingAndGlyphs" stroke="#222" stroke-width="1.4">10</text>
<text transform="translate(437.90,209.40) scale(0.2500)" x="0" y="3.46" font-size="9.6" font-weight="bold" fill="#222" textLength="6.80" lengthAdjust="spacingAndGlyphs" stroke="#222" stroke-width="1.2">5</text>
<text x="368.10" y="222.19" font-size="5.8" font-weight="bold" fill="#000" text-anchor="start" textLength="74.80" lengthAdjust="spacingAndGlyphs" stroke="#000" stroke-width="0.2">Dichlorfluorescein fluorescence</text>
<text transform="translate(359.87,177.20) rotate(-90)" x="0" y="0" font-size="5.2" font-weight="bold" fill="#000" text-anchor="middle" textLength="44.60" lengthAdjust="spacingAndGlyphs" stroke="#000" stroke-width="0.35">Relative Cell Count</text>
<path d="M374.00,204.00 L380.20,204.00 L381.00,192.00 L381.60,178.00 L382.20,167.00 L382.70,170.00 L383.30,180.00 L384.00,190.00 L385.00,197.00 L386.20,201.50 L387.70,204.00 L395.00,204.00" fill="none" stroke="#22c022" stroke-width="1.15" stroke-linejoin="round" stroke-linecap="round" opacity="1"/>
<path d="M394.60,204.00 L396.00,200.00 L397.10,196.00 L398.40,195.00 L400.00,192.50 L401.50,190.00 L403.00,185.50 L404.70,178.00 L405.20,174.60 L406.60,168.00 L407.60,163.30 L408.50,159.50 L409.50,158.60 L410.80,159.50 L412.30,161.00 L414.20,166.20 L416.50,172.80 L418.00,177.50 L419.40,182.00 L420.50,185.50 L422.00,190.00 L423.50,193.00 L425.20,195.00 L427.00,198.00 L428.30,200.00 L430.50,202.50 L432.70,204.00 L446.00,204.00" fill="none" stroke="#2030c0" stroke-width="1.6" stroke-linejoin="round" stroke-linecap="round" opacity="1"/>
<path d="M394.60,204.00 L396.30,200.00 L397.30,196.30 L398.60,195.30 L400.20,193.00 L401.70,190.30 L403.20,185.00 L403.80,182.00 L405.20,176.50 L407.10,170.90 L409.00,165.20 L410.40,162.80 L411.80,162.40 L413.20,159.50 L414.60,156.20 L415.50,158.50 L416.50,160.50 L418.00,162.40 L420.30,169.00 L421.20,171.00 L422.20,173.50 L423.30,176.00 L424.50,180.00 L425.50,185.00 L426.40,190.00 L427.40,193.50 L428.30,196.00 L429.70,199.50 L430.80,202.00 L432.00,203.50 L433.30,204.00 L446.40,204.00" fill="none" stroke="#d82828" stroke-width="1.6" stroke-linejoin="round" stroke-linecap="round" opacity="0.92"/>
<line x1="373.20" y1="204.20" x2="395.00" y2="204.20" stroke="#2a3a30" stroke-width="1.1"/>
<line x1="395.00" y1="204.20" x2="446.40" y2="204.20" stroke="#5a2a30" stroke-width="1.1"/>
<line x1="446.40" y1="199.00" x2="446.40" y2="204.20" stroke="#5a3a3a" stroke-width="1.0"/>
<line x1="449.60" y1="158.00" x2="457.50" y2="158.00" stroke="#9ee09e" stroke-width="1.3"/>
<text x="462.80" y="160.02" font-size="5.6" font-weight="bold" fill="#111" text-anchor="start" textLength="35.40" lengthAdjust="spacingAndGlyphs" stroke="#111" stroke-width="0.3">Isotype control</text>
<line x1="449.60" y1="166.70" x2="457.50" y2="166.70" stroke="#4050c0" stroke-width="1.3"/>
<text x="462.80" y="168.72" font-size="5.6" font-weight="bold" fill="#111" text-anchor="start" textLength="54.90" lengthAdjust="spacingAndGlyphs" stroke="#111" stroke-width="0.3">Scrambled RNA control</text>
<line x1="449.60" y1="174.40" x2="457.50" y2="174.40" stroke="#e85050" stroke-width="1.3"/>
<text x="462.80" y="176.42" font-size="5.6" font-weight="bold" fill="#111" text-anchor="start" textLength="50.70" lengthAdjust="spacingAndGlyphs" stroke="#111" stroke-width="0.3">SBDS-knockdown S3</text>
<text x="258.40" y="246.33" font-size="11.2" font-weight="bold" fill="#000" text-anchor="start" textLength="6.30" lengthAdjust="spacingAndGlyphs" stroke="#000" stroke-width="0.5">F</text>
<line x1="271.10" y1="241.20" x2="393.50" y2="241.20" stroke="#999" stroke-width="0.9"/>
<text x="274.20" y="247.34" font-size="5.4" font-weight="bold" fill="#151515" text-anchor="start" textLength="21.60" lengthAdjust="spacingAndGlyphs" stroke="#151515" stroke-width="0.28">Cell Type</text>
<text x="323.70" y="247.64" font-size="5.4" font-weight="bold" fill="#151515" text-anchor="start" textLength="65.50" lengthAdjust="spacingAndGlyphs" stroke="#151515" stroke-width="0.28">Ratio of median Alexa Fluor</text>
<text x="323.70" y="253.74" font-size="5.4" font-weight="bold" fill="#151515" text-anchor="start" textLength="63.40" lengthAdjust="spacingAndGlyphs" stroke="#151515" stroke-width="0.28">staining to SCR from same</text>
<text x="323.70" y="259.44" font-size="5.4" font-weight="bold" fill="#151515" text-anchor="start" textLength="49.10" lengthAdjust="spacingAndGlyphs" stroke="#151515" stroke-width="0.28">CD34+ donor sample</text>
<rect x="271.30" y="261.60" width="122.20" height="10.40" fill="#d0d0d0"/>
<line x1="271.10" y1="261.90" x2="393.50" y2="261.90" stroke="#9a9a9a" stroke-width="0.7"/>
<rect x="271.10" y="283.10" width="122.40" height="9.90" fill="#d0d0d0"/>
<rect x="271.10" y="304.20" width="122.40" height="9.50" fill="#d0d0d0"/>
<line x1="271.10" y1="313.90" x2="393.50" y2="313.90" stroke="#999" stroke-width="0.8"/>
<text x="274.20" y="268.64" font-size="5.4" font-weight="bold" fill="#151515" text-anchor="start" textLength="18.20" lengthAdjust="spacingAndGlyphs" stroke="#151515" stroke-width="0.28">N1 SCR</text>
<text x="323.60" y="268.64" font-size="5.4" font-weight="bold" fill="#151515" text-anchor="start" textLength="2.30" lengthAdjust="spacingAndGlyphs" stroke="#151515" stroke-width="0.28">1</text>
<text x="274.20" y="278.94" font-size="5.4" font-weight="bold" fill="#151515" text-anchor="start" textLength="13.80" lengthAdjust="spacingAndGlyphs" stroke="#151515" stroke-width="0.28">N1 S3</text>
<text x="323.60" y="278.94" font-size="5.4" font-weight="bold" fill="#151515" text-anchor="start" textLength="10.30" lengthAdjust="spacingAndGlyphs" stroke="#151515" stroke-width="0.28">2.26</text>
<text x="274.20" y="299.64" font-size="5.4" font-weight="bold" fill="#151515" text-anchor="start" textLength="18.20" lengthAdjust="spacingAndGlyphs" stroke="#151515" stroke-width="0.28">N2 SCR</text>
<text x="323.90" y="299.64" font-size="5.4" font-weight="bold" fill="#151515" text-anchor="start" textLength="2.00" lengthAdjust="spacingAndGlyphs" stroke="#151515" stroke-width="0.28">1</text>
<text x="274.20" y="309.64" font-size="5.4" font-weight="bold" fill="#151515" text-anchor="start" textLength="13.80" lengthAdjust="spacingAndGlyphs" stroke="#151515" stroke-width="0.28">N2 S3</text>
<text x="323.60" y="309.64" font-size="5.4" font-weight="bold" fill="#151515" text-anchor="start" textLength="10.30" lengthAdjust="spacingAndGlyphs" stroke="#151515" stroke-width="0.28">1.36</text>
</svg>
</body></html>
